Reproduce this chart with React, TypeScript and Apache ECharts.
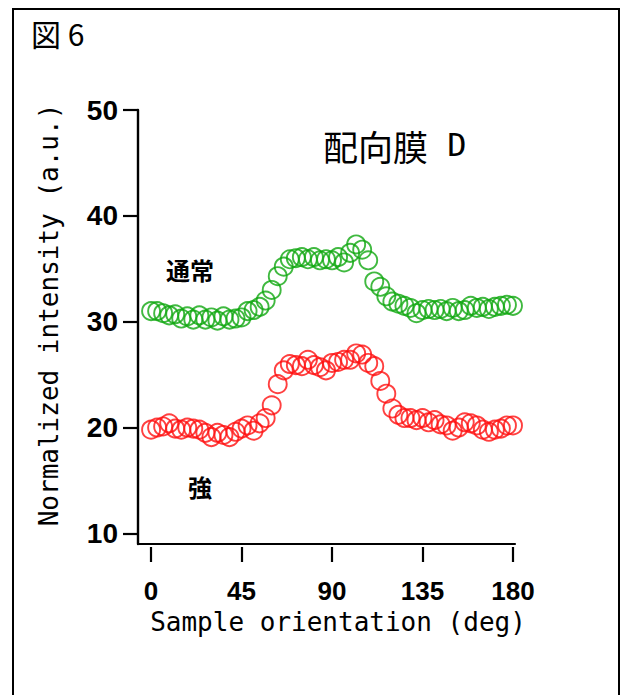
import { useEffect, useRef } from "react";
import * as echarts from "echarts";

const angles = [
  0, 3, 6, 9, 12, 15, 18, 21, 24, 27, 30, 33, 36, 39, 42, 45, 48, 51, 54, 57,
  60, 63, 66, 69, 72, 75, 78, 81, 84, 87, 90, 93, 96, 99, 102, 105, 108, 111,
  114, 117, 120, 123, 126, 129, 132, 135, 138, 141, 144, 147, 150, 153, 156,
  159, 162, 165, 168, 171, 174, 177, 180,
];

const normalValues = [
  31.0, 31.0, 30.8, 30.6, 30.7, 30.3, 30.5, 30.2, 30.6, 30.2, 30.4, 30.1, 30.5,
  30.2, 30.3, 30.4, 31.0, 31.1, 31.4, 32.0, 33.0, 34.3, 35.2, 35.9, 36.0, 36.1,
  35.9, 36.1, 35.8, 35.9, 35.8, 36.1, 35.6, 36.5, 37.3, 36.8, 35.8, 33.8, 33.3,
  32.4, 31.9, 31.7, 31.5, 31.3, 30.8, 31.1, 31.2, 31.1, 31.2, 31.0, 31.3, 31.0,
  31.1, 31.5, 31.3, 31.4, 31.2, 31.4, 31.5, 31.6, 31.5,
];

const strongValues = [
  19.8, 20.0, 20.1, 20.4, 19.9, 19.8, 20.0, 19.9, 19.8, 19.5, 19.1, 19.5, 19.3,
  19.1, 19.6, 19.9, 20.2, 19.7, 20.4, 20.9, 22.1, 24.1, 25.4, 26.0, 25.9, 25.8,
  26.4, 25.9, 25.7, 25.4, 26.1, 26.2, 26.4, 26.4, 27.0, 26.9, 26.1, 25.8, 24.4,
  23.2, 21.8, 21.2, 20.9, 20.9, 20.7, 20.9, 20.5, 20.7, 20.3, 20.2, 19.7, 20.0,
  20.5, 20.4, 20.2, 19.8, 19.6, 19.8, 19.9, 20.2, 20.2,
];

const xTicks = [0, 45, 90, 135, 180];
const yTicks = [10, 20, 30, 40, 50];

const seriesNames = ["通常", "強"];
const seriesColors = ["#10a810", "#ff1010"];

const xTitle = "Sample orientation (deg)";
const yTitle = "Normalized intensity (a.u.)";

export default function App() {
  const ref = useRef<HTMLDivElement>(null);

  useEffect(() => {
    if (!ref.current) return;
    const chart = echarts.init(ref.current, undefined, { renderer: "svg" });
    const mono = "'DejaVu Sans Mono', monospace";
    const sans = "'Liberation Sans', Arial, sans-serif";
    const cjk = "'Noto Sans CJK JP', sans-serif";

    const makeSeries = (name: string, values: number[], color: string) => ({
      name,
      type: "scatter",
      data: angles.map((a, i) => [a, values[i]]),
      symbol: "circle",
      symbolSize: 18,
      itemStyle: { color: "rgba(0,0,0,0)", borderColor: color, borderWidth: 1.9 },
      emphasis: { disabled: true },
      xAxisIndex: 0,
      yAxisIndex: 0,
      clip: false,
    });

    chart.setOption({
      animation: false,
      backgroundColor: "#fff",
      grid: { left: 138, top: 110, width: 377, height: 434 },
      xAxis: [
        {
          type: "value",
          min: -6.5,
          max: 181,
          position: "bottom",
          axisLine: { show: true, onZero: false, lineStyle: { color: "#000", width: 2.2 } },
          axisTick: { show: false },
          axisLabel: { show: false },
          splitLine: { show: false },
        },
        {
          type: "value",
          min: -6.5,
          max: 181,
          position: "bottom",
          offset: 3,
          axisLine: { show: false, onZero: false },
          axisTick: {
            show: true,
            customValues: xTicks,
            length: 15,
            lineStyle: { color: "#000", width: 2.2 },
          },
          axisLabel: {
            show: true,
            customValues: xTicks,
            margin: 31,
            color: "#000",
            fontSize: 26,
            fontWeight: "bold",
            fontFamily: sans,
          },
          splitLine: { show: false },
        },
      ],
      yAxis: {
        type: "value",
        min: 9,
        max: 50,
        axisLine: { show: true, onZero: false, lineStyle: { color: "#000", width: 2.4 } },
        axisTick: {
          show: true,
          customValues: yTicks,
          length: 15,
          lineStyle: { color: "#000", width: 2.2 },
        },
        axisLabel: {
          show: true,
          customValues: yTicks,
          margin: 20,
          color: "#000",
          fontSize: 28,
          fontWeight: "bold",
          fontFamily: sans,
        },
        splitLine: { show: false },
      },
      series: [
        makeSeries(seriesNames[0], normalValues, seriesColors[0]),
        makeSeries(seriesNames[1], strongValues, seriesColors[1]),
      ],
      graphic: [
        {
          type: "rect",
          shape: { x: 13, y: 9, width: 606, height: 800 },
          style: { fill: "none", stroke: "#000", lineWidth: 2 },
          silent: true,
          z: -1,
        },
        {
          type: "text",
          x: 31,
          y: 33,
          style: {
            text: "図 6",
            fontFamily: cjk,
            fontSize: 30,
            fill: "#000",
            verticalAlign: "middle",
          },
        },
        {
          type: "text",
          x: 323,
          y: 145,
          style: {
            text: "{c|配向膜}{d| D}",
            verticalAlign: "middle",
            rich: {
              c: { fontFamily: cjk, fontSize: 35, fill: "#000" },
              d: { fontFamily: mono, fontSize: 32, fill: "#000" },
            },
          },
        },
        {
          type: "text",
          x: 190,
          y: 269,
          style: {
            text: seriesNames[0],
            fontFamily: cjk,
            fontSize: 24,
            fontWeight: "bold",
            fill: "#000",
            align: "center",
            verticalAlign: "middle",
          },
        },
        {
          type: "text",
          x: 200,
          y: 486,
          style: {
            text: seriesNames[1],
            fontFamily: cjk,
            fontSize: 24,
            fontWeight: "bold",
            fill: "#000",
            align: "center",
            verticalAlign: "middle",
          },
        },
        {
          type: "text",
          x: 338,
          y: 622,
          style: {
            text: xTitle,
            fontFamily: mono,
            fontSize: 26,
            fill: "#000",
            align: "center",
            verticalAlign: "middle",
          },
        },
        {
          type: "text",
          x: 49,
          y: 315,
          rotation: Math.PI / 2,
          style: {
            text: yTitle,
            fontFamily: mono,
            fontSize: 26,
            fill: "#000",
            align: "center",
            verticalAlign: "middle",
          },
        },
      ],
    });

    return () => chart.dispose();
  }, []);

  return (
    <div
      ref={ref}
      style={{ position: "fixed", left: 0, top: 0, width: 621, height: 695 }}
    />
  );
}
